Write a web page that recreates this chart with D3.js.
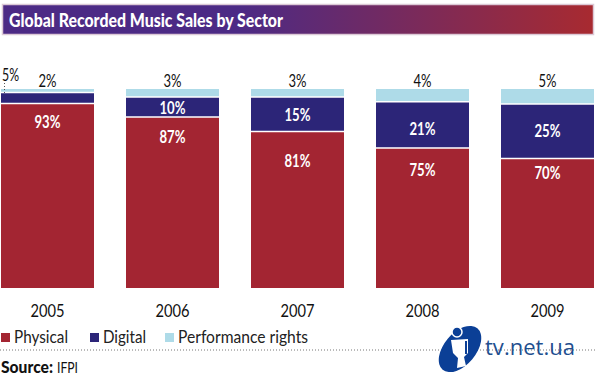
<!DOCTYPE html>
<html>
<head>
  <meta charset="utf-8">
  <title>Global Recorded Music Sales by Sector</title>
  <style>
    html, body { margin: 0; padding: 0; background: #fff; }
    svg { display: block; }
    text { font-family: Lato, "Open Sans", sans-serif; }
  </style>
</head>
<body>
  <div id="chart"></div>
  <script src="https://d3js.org/d3.v7.min.js"></script>
  <script>
    const years = ['2005', '2006', '2007', '2008', '2009'];
    const sectors = ['Physical', 'Digital', 'Performance rights'];

    // printed labels
    const physical = [93, 87, 81, 75, 70];
    const digital = [5, 10, 15, 21, 25];
    const performance = [2, 3, 3, 4, 5];

    // segment lengths as drawn in the picture (the original is not to scale with its labels)
    const physicalDrawn = [92.7, 85.9, 78.6, 70.4, 65.1];
    const digitalDrawn = [5.5, 10.1, 17.4, 23.2, 27.4];
    const performanceDrawn = [1.8, 4, 4, 6.4, 7.5];

    const colors = ['#a32532', '#2c2578', '#aedbe8'];

    // label nudges, px
    const physicalDrop = [24.5, 26, 35.5, 28, 20.5];
    const digitalNudge = [0, 1, 1, 4, 0];

    const svg = d3.select('#chart').append('svg')
      .attr('width', 600)
      .attr('height', 377);

    // title band
    const grad = svg.append('defs').append('linearGradient').attr('id', 'band');
    grad.append('stop').attr('offset', '40%').attr('stop-color', '#4c2a85');
    grad.append('stop').attr('offset', '100%').attr('stop-color', '#a82a30');

    svg.append('rect')
      .attr('x', 2.5).attr('y', 4.5)
      .attr('width', 591).attr('height', 30)
      .attr('fill', 'url(#band)')
      .attr('stroke', '#dcc9d6')
      .attr('stroke-width', 1.5);

    svg.append('text')
      .attr('x', 9).attr('y', 27)
      .attr('fill', '#fff')
      .attr('font-size', 18)
      .attr('font-weight', 900)
      .attr('textLength', 274)
      .attr('lengthAdjust', 'spacingAndGlyphs')
      .text('Global Recorded Music Sales by Sector');

    // scales
    const x = d3.scaleBand()
      .domain(years)
      .range([1, 594])
      .paddingInner(0.256)
      .paddingOuter(0);

    const y = d3.scaleLinear()
      .domain([0, 100])
      .range([288, 89]);

    const rows = years.map((year, i) => ({
      year,
      physical: physicalDrawn[i],
      digital: digitalDrawn[i],
      performance: performanceDrawn[i],
      i
    }));

    const cx = d => x(d.year) + x.bandwidth() / 2;

    // dotted rule goes under the logo
    svg.append('line')
      .attr('x1', 0).attr('x2', 595)
      .attr('y1', 350).attr('y2', 350)
      .attr('stroke', '#777')
      .attr('stroke-dasharray', '1 2');

    // bars
    const layers = svg.selectAll('g.layer')
      .data(d3.stack().keys(['physical', 'digital', 'performance'])(rows))
      .join('g')
      .attr('class', 'layer')
      .attr('fill', (d, i) => colors[i]);

    layers.selectAll('rect')
      .data(d => d)
      .join('rect')
      .attr('x', d => x(d.data.year))
      .attr('width', x.bandwidth())
      .attr('y', d => y(d[1]))
      .attr('height', d => y(d[0]) - y(d[1]));

    // white gaps between segments
    layers.filter((d, i) => i > 0)
      .selectAll('line')
      .data(d => d)
      .join('line')
      .attr('x1', d => x(d.data.year))
      .attr('x2', d => x(d.data.year) + x.bandwidth())
      .attr('y1', d => y(d[0]))
      .attr('y2', d => y(d[0]))
      .attr('stroke', '#fff')
      .attr('stroke-width', 1.5);

    // labels inside bars
    svg.selectAll('text.phys')
      .data(rows)
      .join('text')
      .attr('class', 'phys')
      .attr('x', cx)
      .attr('y', d => y(d.physical) + physicalDrop[d.i])
      .attr('text-anchor', 'middle')
      .attr('fill', '#fff')
      .attr('font-size', 16.5)
      .attr('font-weight', 700)
      .attr('textLength', 26)
      .attr('lengthAdjust', 'spacingAndGlyphs')
      .text(d => physical[d.i] + '%');

    svg.selectAll('text.dig')
      .data(rows.filter(d => d.i > 0))
      .join('text')
      .attr('class', 'dig')
      .attr('x', cx)
      .attr('y', d => y(d.physical + d.digital / 2) + 6 + digitalNudge[d.i])
      .attr('text-anchor', 'middle')
      .attr('fill', '#fff')
      .attr('font-size', 16.5)
      .attr('font-weight', 700)
      .attr('textLength', 26)
      .attr('lengthAdjust', 'spacingAndGlyphs')
      .text(d => digital[d.i] + '%');

    // labels above bars
    svg.selectAll('text.perf')
      .data(rows)
      .join('text')
      .attr('class', 'perf')
      .attr('x', cx)
      .attr('y', 86.5)
      .attr('text-anchor', 'middle')
      .attr('fill', '#111')
      .attr('font-size', 16.5)
      .attr('textLength', 18)
      .attr('lengthAdjust', 'spacingAndGlyphs')
      .text(d => performance[d.i] + '%');

    // 2005 digital label sits outside with a dotted leader
    svg.append('text')
      .attr('x', 2).attr('y', 81)
      .attr('fill', '#111')
      .attr('font-size', 16.5)
      .attr('textLength', 17)
      .attr('lengthAdjust', 'spacingAndGlyphs')
      .text(digital[0] + '%');

    svg.append('line')
      .attr('x1', 4.5).attr('x2', 4.5)
      .attr('y1', 83).attr('y2', 94)
      .attr('stroke', '#555')
      .attr('stroke-dasharray', '1 2');

    // year axis
    const axis = svg.append('g')
      .attr('transform', 'translate(0,288)')
      .call(d3.axisBottom(x).tickSize(0).tickPadding(17));
    axis.select('.domain').remove();
    axis.selectAll('text')
      .attr('fill', '#111')
      .attr('font-size', 17.5)
      .attr('textLength', 34)
      .attr('lengthAdjust', 'spacingAndGlyphs')
      .style('font-family', 'Lato, "Open Sans", sans-serif');

    // legend
    const legendX = [1, 90, 165];
    const legendW = [54, 43, 130];
    const legend = svg.selectAll('g.legend')
      .data(sectors)
      .join('g')
      .attr('class', 'legend')
      .attr('transform', (d, i) => `translate(${legendX[i]},333)`);

    legend.append('rect')
      .attr('width', 9).attr('height', 9)
      .attr('fill', (d, i) => colors[i]);

    legend.append('text')
      .attr('x', 13).attr('y', 10)
      .attr('fill', '#222')
      .attr('font-size', 17)
      .attr('textLength', (d, i) => legendW[i])
      .attr('lengthAdjust', 'spacingAndGlyphs')
      .text(d => d);

    // source
    svg.append('text')
      .attr('x', 1).attr('y', 373)
      .attr('fill', '#111')
      .attr('font-size', 16)
      .attr('font-weight', 900)
      .attr('textLength', 52)
      .attr('lengthAdjust', 'spacingAndGlyphs')
      .text('Source:');
    svg.append('text')
      .attr('x', 57).attr('y', 373)
      .attr('fill', '#111')
      .attr('font-size', 16)
      .attr('textLength', 21)
      .attr('lengthAdjust', 'spacingAndGlyphs')
      .text('IFPI');

    // watermark logo
    const logo = svg.append('g').attr('transform', 'translate(430,320)');
    logo.append('ellipse')
      .attr('cx', 30).attr('cy', 29)
      .attr('rx', 27).attr('ry', 16)
      .attr('transform', 'rotate(-50 30 29)')
      .attr('fill', '#0b3f96');
    logo.append('path')
      .attr('d', 'M21,20 L38,19 L38,33 L34,37 L36,46 L27,48 L28,38 L23,33 Z')
      .attr('fill', '#fff');
    logo.append('path')
      .attr('d', 'M35,21 L37,21 L37,34 L35,34 Z')
      .attr('fill', '#0b3f96');
    logo.append('circle')
      .attr('cx', 27).attr('cy', 12).attr('r', 5)
      .attr('fill', '#0b3f96')
      .attr('stroke', '#fff')
      .attr('stroke-width', 1.5);

    svg.append('text')
      .attr('x', 485).attr('y', 355)
      .attr('fill', '#1f4f8f')
      .attr('font-size', 22)
      .attr('textLength', 90)
      .style('font-family', '"Open Sans", sans-serif')
      .text('tv.net.ua');
  </script>
</body>
</html>
